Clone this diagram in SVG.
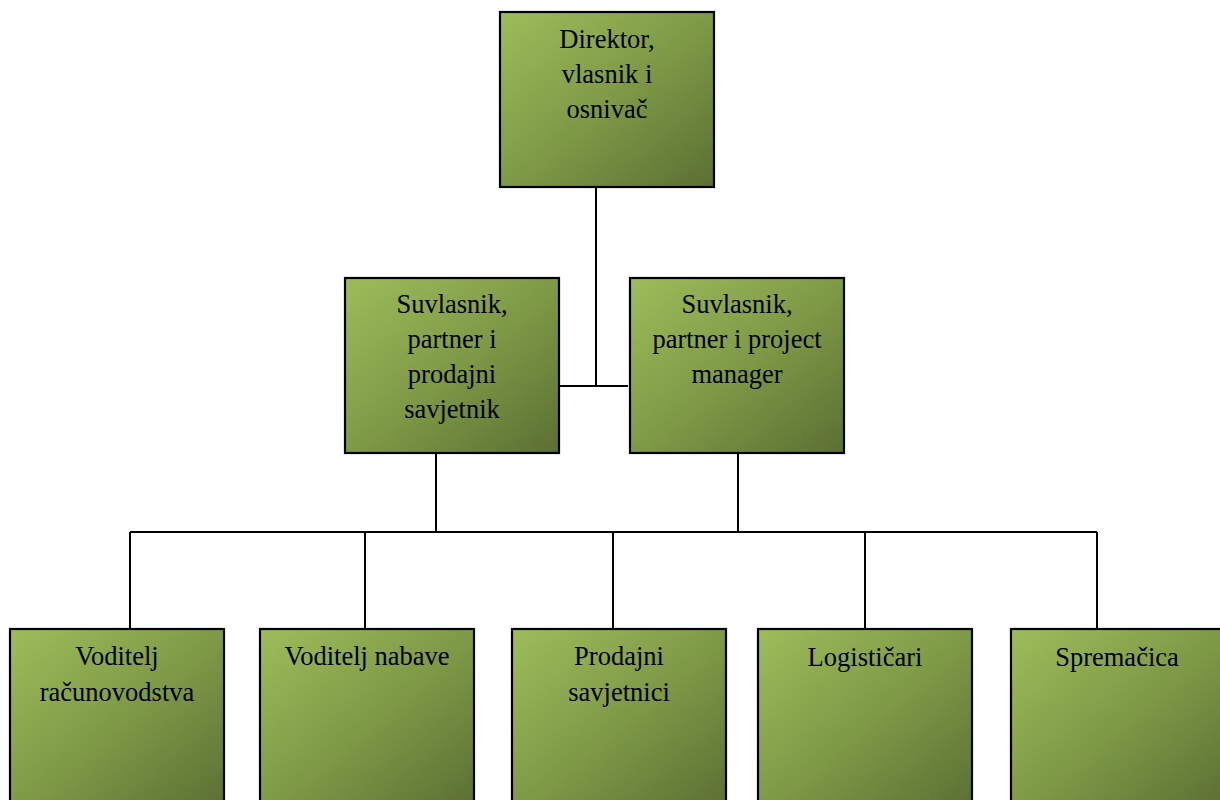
<svg xmlns="http://www.w3.org/2000/svg" width="1220" height="800" viewBox="0 0 1220 800">
<defs>
<linearGradient id="g" x1="0" y1="0" x2="1" y2="1">
<stop offset="0" stop-color="#9dbd5a"/>
<stop offset="0.5" stop-color="#7f9a47"/>
<stop offset="1" stop-color="#5b6f33"/>
</linearGradient>
<style>
.box{fill:url(#g);stroke:#000;stroke-width:2.2}
.t{font-family:"Liberation Serif","Times New Roman",serif;font-size:26.5px;fill:#000;text-anchor:middle}
.c{stroke:#000;stroke-width:2;fill:none}
</style>
</defs>
<rect width="1220" height="800" fill="#fff"/>
<g id="connectors">
<path class="c" d="M596,187 V386"/>
<path class="c" d="M559,386 H628"/>
<path class="c" d="M436,453 V532"/>
<path class="c" d="M738,453 V532"/>
<path class="c" d="M130,532 H1097"/>
<path class="c" d="M130,532 V629 M365,532 V629 M613,532 V629 M865,532 V629 M1097,532 V629"/>
</g>
<g id="director">
<rect class="box" x="500" y="12" width="214" height="175"/>
<text class="t" x="607" y="48">Direktor,</text>
<text class="t" x="607" y="83">vlasnik i</text>
<text class="t" x="607" y="118">osnivač</text>
</g>
<g id="suvlasnik1">
<rect class="box" x="345" y="278" width="214" height="175"/>
<text class="t" x="452" y="313">Suvlasnik,</text>
<text class="t" x="452" y="348">partner i</text>
<text class="t" x="452" y="383">prodajni</text>
<text class="t" x="452" y="418">savjetnik</text>
</g>
<g id="suvlasnik2">
<rect class="box" x="630" y="278" width="214" height="175"/>
<text class="t" x="737" y="313">Suvlasnik,</text>
<text class="t" x="737" y="348">partner i project</text>
<text class="t" x="737" y="383">manager</text>
</g>
<g id="racunovodstvo">
<rect class="box" x="10" y="629" width="214" height="180"/>
<text class="t" x="117" y="665">Voditelj</text>
<text class="t" x="117" y="701">računovodstva</text>
</g>
<g id="nabava">
<rect class="box" x="260" y="629" width="214" height="180"/>
<text class="t" x="367" y="665">Voditelj nabave</text>
</g>
<g id="prodajni">
<rect class="box" x="512" y="629" width="214" height="180"/>
<text class="t" x="619" y="665">Prodajni</text>
<text class="t" x="619" y="701">savjetnici</text>
</g>
<g id="logisticari">
<rect class="box" x="758" y="629" width="214" height="180"/>
<text class="t" x="865" y="666">Logističari</text>
</g>
<g id="spremacica">
<rect class="box" x="1011" y="629" width="214" height="180"/>
<text class="t" x="1117" y="666">Spremačica</text>
</g>
</svg>
